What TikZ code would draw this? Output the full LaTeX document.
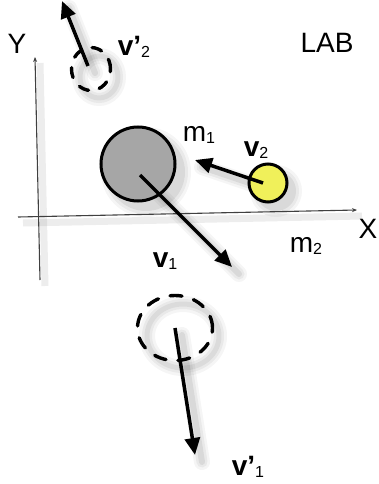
\documentclass[tikz,border=0pt]{standalone}
\usepackage{fontspec}
\setmainfont{Liberation Sans}
\usetikzlibrary{arrows.meta,shapes.geometric}
\definecolor{mtwo}{HTML}{F0F05A}
\definecolor{mone}{HTML}{A6A6A6}
\newcommand{\mysub}[1]{\raisebox{-1.5pt}{\mdseries\fontsize{16}{16}\selectfont #1}}
\newcommand{\shline}[2]{%
  \foreach \w/\o in {16/0.04,11/0.05,6/0.07}{%
    \draw[line width=\w pt, black, opacity=\o, line cap=round,
      transform canvas={xshift=7pt,yshift=-7pt}] #1 -- #2;}}
\newcommand{\shblob}[2]{%
  \foreach \r/\o in {6/0.04,3/0.05,0/0.07}{%
    \fill[black, opacity=\o, transform canvas={xshift=8pt,yshift=-8pt}] #1 circle ({#2+\r});}}
\newcommand{\shring}[3]{%
  \foreach \w/\o in {16/0.04,10/0.05,5/0.06}{%
    \draw[line width=\w pt, black, opacity=\o, transform canvas={xshift=8pt,yshift=-8pt}] #1 ellipse ({#2} and {#3});}}
\tikzset{
  vec/.style={line width=3.5pt, -{Triangle[length=17pt,width=15pt]}},
  axis/.style={line width=1.1pt, black!75, -{Stealth[length=5pt,width=4pt]}},
  lbl/.style={font=\fontsize{28}{30}\selectfont, inner sep=0pt},
  vlbl/.style={font=\bfseries\fontsize{28}{30}\selectfont, inner sep=0pt},
  ghost/.style={ellipse, draw, line width=3.4pt, line cap=round, inner sep=0pt},
  ball/.style={circle, draw, line width=3pt, inner sep=0pt},
}
\begin{document}
\begin{tikzpicture}[x=1pt,y=-1pt]
\useasboundingbox (0,0) rectangle (379,484);
% coordinates
\coordinate (yb) at (40,280);
\coordinate (yt) at (35,57);
\coordinate (xl) at (18,217);
\coordinate (xr) at (357,210);
\coordinate (v1s) at (140,175);
\coordinate (v1e) at (232,267);
\coordinate (v2s) at (263,183);
\coordinate (v2e) at (195,160);
\coordinate (w2s) at (88,66);
\coordinate (w2e) at (62,1);
\coordinate (w1s) at (175,328);
\coordinate (w1e) at (195,455);
\coordinate (c1) at (138,164);
\coordinate (c2) at (268,183);
\coordinate (g2) at (91,69);
\coordinate (g1) at (175,328);
% shadows
\foreach \o in {0.03,0.04}{\draw[line width=7pt, black, opacity=\o, transform canvas={xshift=5pt,yshift=-6pt}] (yb) -- (yt);}
\foreach \o in {0.03,0.04}{\draw[line width=7pt, black, opacity=\o, transform canvas={xshift=5pt,yshift=-6pt}] (xl) -- (xr);}
\shblob{(c1)}{39}
\shblob{(c2)}{20}
\shring{(g2)}{19}{21}
\shring{(g1)}{36}{32}
\shline{(v1s)}{(v1e)}
\shline{(v2s)}{(v2e)}
\shline{(w2s)}{(w2e)}
\shline{(w1s)}{(w1e)}
% axes
\draw[axis] (yb) -- (yt);
\draw[axis] (xl) -- (xr);
\node[lbl] (ylab) at (17,44) {Y};
\node[lbl] (xlab) at (368,229) {X};
\node[lbl] (lab) at (327,43) {LAB};
% bodies
\node[ball, fill=mone, minimum size=74pt] (m1c) at (c1) {};
\node[ball, fill=mtwo, minimum size=38pt] (m2c) at (c2) {};
\node[ghost, dash pattern=on 10pt off 11pt, minimum width=39pt, minimum height=43pt] (g2c) at (g2) {};
\node[ghost, dash pattern=on 12pt off 12pt, minimum width=75pt, minimum height=65pt] (g1c) at (g1) {};
% vectors
\draw[vec] (v1s) -- (v1e);
\draw[vec] (v2s) -- (v2e);
\draw[vec] (w2s) -- (w2e);
\draw[vec] (w1s) -- (w1e);
% labels
\node[lbl] (m1l) at (199,135) {m\mysub{1}};
\node[lbl] (m2l) at (306,246) {m\mysub{2}};
\node[vlbl] (v1l) at (165,261) {v\mysub{1}};
\node[vlbl] (v2l) at (256,150) {v\mysub{2}};
\node[vlbl] (w2l) at (134,47) {v'\mysub{2}};
\node[vlbl] (w1l) at (248,467) {v'\mysub{1}};
\end{tikzpicture}
\end{document}
